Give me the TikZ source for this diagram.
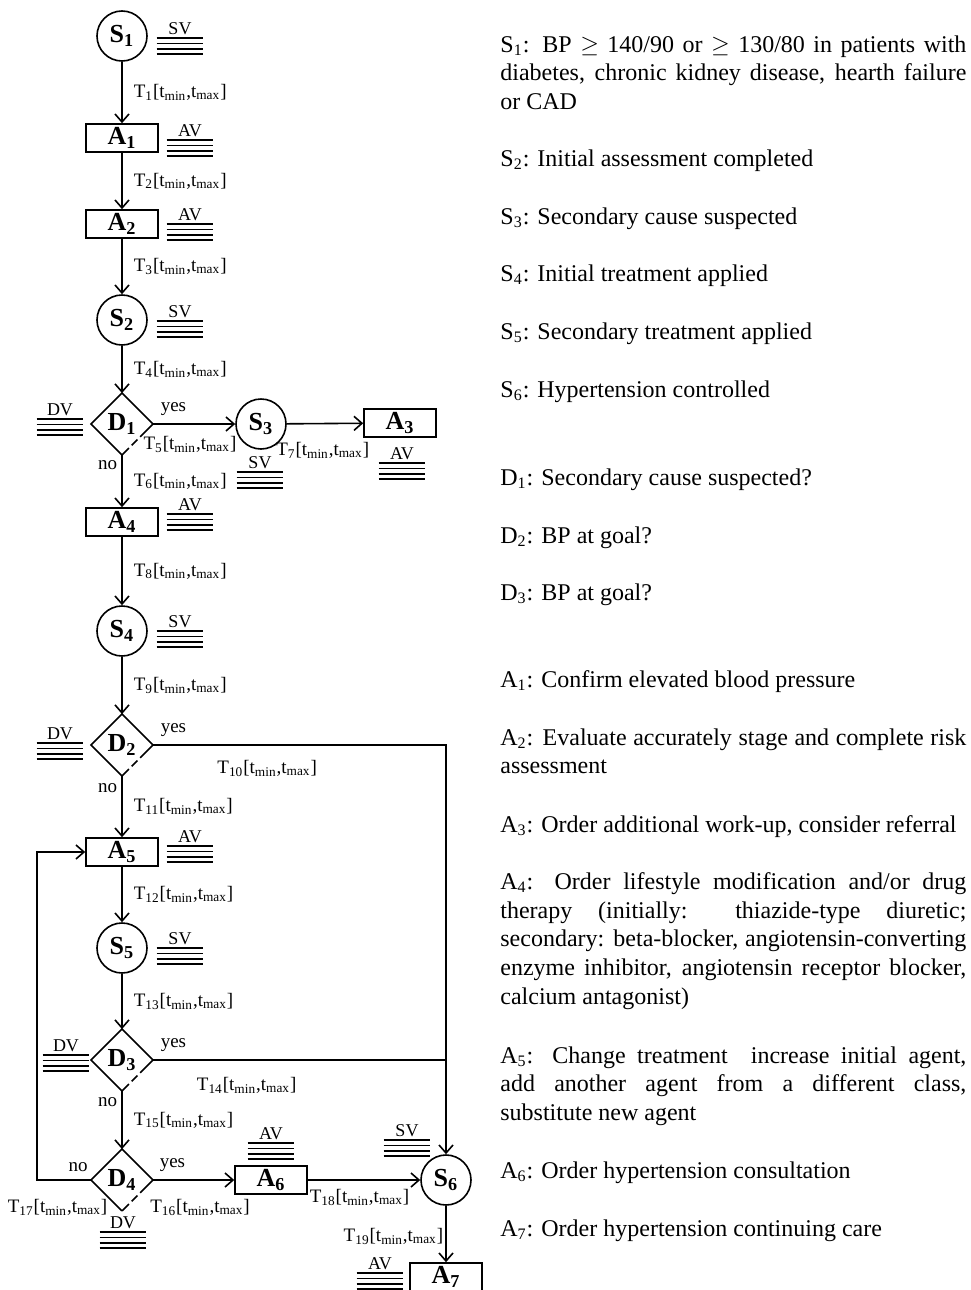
\documentclass[tikz,border=0pt]{standalone}
\usepackage{fontspec}
\setmainfont{Liberation Serif}
\usetikzlibrary{shapes.geometric,arrows.meta}
\hyphenpenalty=10000
\exhyphenpenalty=10000

\tikzset{
  snode/.style={circle, draw, line width=0.8pt, minimum size=25pt, inner sep=0pt, font=\fontsize{13}{14}\selectfont\bfseries},
  anode/.style={rectangle, draw, line width=0.8pt, minimum width=36pt, minimum height=14pt, inner sep=0pt, font=\fontsize{13}{14}\selectfont\bfseries},
  dnode/.style={diamond, minimum width=30.5pt, minimum height=30.5pt, inner sep=0pt, font=\fontsize{13}{14}\selectfont\bfseries},
  flow/.style={line width=0.8pt, -{Straight Barb[length=4pt,width=7pt]}},
  wire/.style={line width=0.8pt},
  lbl/.style={font=\fontsize{9.5}{10}\selectfont, inner sep=1pt},
  vtxt/.style={anchor=south, font=\fontsize{9}{10}\selectfont, text width=23pt, align=center, inner xsep=0pt, inner ysep=1.5pt},
  vbar/.style={line width=0.9pt},
  desc/.style={anchor=north west, inner sep=0pt, text width=233pt, align=justify, font=\fontsize{12}{14.4}\selectfont},
}

\newcommand{\tlim}[1]{T\textsubscript{#1}[t\textsubscript{min},t\textsubscript{max}]}
% name, top bar, text
\newcommand{\vtag}[3]{%
  \node[vtxt] (#1) at (#2) {#3};
  \foreach \k in {0,1,2,3}
    \draw[vbar] ([yshift=-\k*2.7pt]#1.south west) -- ([yshift=-\k*2.7pt]#1.south east);
}
% diamond outline, lower right side broken
\newcommand{\dedges}[1]{%
  \draw[wire] (#1.east) -- (#1.north) -- (#1.west) -- (#1.south);
  \draw[wire, dash pattern=on 9pt off 2pt on 4pt off 2pt on 20pt] (#1.east) -- (#1.south);
}

\begin{document}
\begin{tikzpicture}[x=0.5pt, y=-0.5pt]
  \useasboundingbox (0,0) rectangle (970,1290);

  % states, actions, decisions
  \node[snode] (s1) at (122,36) {S\textsubscript{1}};
  \node[anode] (a1) at (122,138) {A\textsubscript{1}};
  \node[anode] (a2) at (122,224) {A\textsubscript{2}};
  \node[snode] (s2) at (122,320) {S\textsubscript{2}};
  \node[dnode] (d1) at (122,424) {D\textsubscript{1}};
  \node[snode] (s3) at (261,424) {S\textsubscript{3}};
  \node[anode] (a3) at (400,423) {A\textsubscript{3}};
  \node[anode] (a4) at (122,522) {A\textsubscript{4}};
  \node[snode] (s4) at (122,631) {S\textsubscript{4}};
  \node[dnode] (d2) at (122,745) {D\textsubscript{2}};
  \node[anode] (a5) at (122,852) {A\textsubscript{5}};
  \node[snode] (s5) at (122,948) {S\textsubscript{5}};
  \node[dnode] (d3) at (122,1060) {D\textsubscript{3}};
  \node[dnode] (d4) at (122,1180) {D\textsubscript{4}};
  \node[anode] (a6) at (271,1180) {A\textsubscript{6}};
  \node[snode] (s6) at (446,1180) {S\textsubscript{6}};
  \node[anode] (a7) at (446,1277) {A\textsubscript{7}};
  \dedges{d1} \dedges{d2} \dedges{d3} \dedges{d4}

  \coordinate (c2) at (s6 |- d2);
  \coordinate (c3) at (s6 |- d3);
  \coordinate (lp1) at (37,1180);
  \coordinate (lp2) at (lp1 |- a5);

  % transitions
  \draw[flow] (s1) -- node[lbl, right=4.5pt] {\tlim{1}} (a1);
  \draw[flow] (a1) -- node[lbl, right=4.5pt] {\tlim{2}} (a2);
  \draw[flow] (a2) -- node[lbl, right=4.5pt] {\tlim{3}} (s2);
  \draw[flow] (s2) -- node[lbl, right=4.5pt] {\tlim{4}} (d1.north);
  \draw[flow] (d1.east) -- node[lbl, pos=0.25, above=3pt] {yes} node[lbl, pos=0.45, below=5pt] {\tlim{5}} (s3);
  \draw[flow] (s3) -- node[lbl, pos=0.47, below=8pt] {\tlim{7}} (a3);
  \draw[flow] (d1.south) -- node[lbl, pos=0.2, left=1pt] {no} node[lbl, right=4.5pt] {\tlim{6}} (a4);
  \draw[flow] (a4) -- node[lbl, right=4.5pt] {\tlim{8}} (s4);
  \draw[flow] (s4) -- node[lbl, right=4.5pt] {\tlim{9}} (d2.north);
  \draw[flow] (d2.east) -- node[lbl, pos=0.07, above=3pt] {yes} node[lbl, pos=0.39, below=6.5pt] {\tlim{10}} (c2) -- (s6);
  \draw[flow] (d2.south) -- node[lbl, pos=0.2, left=1pt] {no} node[lbl, right=4.5pt] {\tlim{11}} (a5);
  \draw[flow] (a5) -- node[lbl, right=4.5pt] {\tlim{12}} (s5);
  \draw[flow] (s5) -- node[lbl, right=4.5pt] {\tlim{13}} (d3.north);
  \draw[wire] (d3.east) -- node[lbl, pos=0.07, above=3pt] {yes} node[lbl, pos=0.32, below=7.5pt] {\tlim{14}} (c3);
  \draw[flow] (d3.south) -- node[lbl, pos=0.2, left=1pt] {no} node[lbl, right=4.5pt] {\tlim{15}} (d4.north);
  \draw[flow] (d4.east) -- node[lbl, pos=0.24, above=3pt] {yes} node[lbl, pos=0.58, below=8.5pt] {\tlim{16}} (a6);
  \draw[flow] (d4.west) -- node[lbl, pos=0.24, above=3pt] {no} node[lbl, pos=0.62, below=8.5pt] {\tlim{17}} (lp1) -- (lp2) -- (a5);
  \draw[flow] (a6) -- node[lbl, pos=0.46, below=3.5pt] {\tlim{18}} (s6);
  \draw[flow] (s6) -- node[lbl, pos=0.55, left=0pt] {\tlim{19}} (a7);

  % variables
  \vtag{v1}{180,38}{SV}
  \vtag{v2}{190,140}{AV}
  \vtag{v3}{190,224}{AV}
  \vtag{v4}{180,321}{SV}
  \vtag{v5}{60,419}{DV}
  \vtag{v6}{260,472}{SV}
  \vtag{v7}{402,463}{AV}
  \vtag{v8}{190,514}{AV}
  \vtag{v9}{180,631}{SV}
  \vtag{v10}{60,743}{DV}
  \vtag{v11}{190,846}{AV}
  \vtag{v12}{180,948}{SV}
  \vtag{v13}{66,1055}{DV}
  \vtag{v14}{271,1143}{AV}
  \vtag{v15}{407,1140}{SV}
  \vtag{v16}{123,1232}{DV}
  \vtag{v17}{380,1273}{AV}

  % legend
  \node[desc] (ds1) at (500,35) {S\textsubscript{1}: BP $\geq$ 140/90 or $\geq$ 130/80 in patients with\linebreak diabetes, chronic kidney disease, hearth failure\linebreak or CAD};
  \node[desc] (ds2) at (500,149) {S\textsubscript{2}: Initial assessment completed};
  \node[desc] (ds3) at (500,207) {S\textsubscript{3}: Secondary cause suspected};
  \node[desc] (ds4) at (500,264) {S\textsubscript{4}: Initial treatment applied};
  \node[desc] (ds5) at (500,322) {S\textsubscript{5}: Secondary treatment applied};
  \node[desc] (ds6) at (500,380) {S\textsubscript{6}: Hypertension controlled};
  \node[desc] (dd1) at (500,468) {D\textsubscript{1}: Secondary cause suspected?};
  \node[desc] (dd2) at (500,526) {D\textsubscript{2}: BP at goal?};
  \node[desc] (dd3) at (500,583) {D\textsubscript{3}: BP at goal?};
  \node[desc] (da1) at (500,670) {A\textsubscript{1}: Confirm elevated blood pressure};
  \node[desc] (da2) at (500,728) {A\textsubscript{2}: Evaluate accurately stage and complete risk\linebreak assessment};
  \node[desc] (da3) at (500,815) {A\textsubscript{3}: Order additional work-up, consider referral};
  \node[desc] (da4) at (500,872) {A\textsubscript{4}: Order lifestyle modification and/or drug\linebreak therapy (initially: thiazide-type diuretic;\linebreak secondary: beta-blocker, angiotensin-converting\linebreak enzyme inhibitor, angiotensin receptor blocker,\linebreak calcium antagonist)};
  \node[desc] (da5) at (500,1046) {A\textsubscript{5}: Change treatment~~increase initial agent,\linebreak add another agent from a different class,\linebreak substitute new agent};
  \node[desc] (da6) at (500,1161) {A\textsubscript{6}: Order hypertension consultation};
  \node[desc] (da7) at (500,1219) {A\textsubscript{7}: Order hypertension continuing care};
\end{tikzpicture}
\end{document}
